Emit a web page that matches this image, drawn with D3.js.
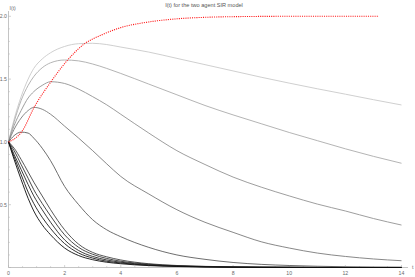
<!DOCTYPE html>
<html>
<head>
<meta charset="utf-8">
<script src="https://cdn.jsdelivr.net/npm/d3@7"></script>
<style>
  body { margin: 0; background: #fff; }
  svg { display: block; font-family: "Liberation Sans", "DejaVu Sans", sans-serif; }
</style>
</head>
<body>
<svg id="chart" width="415" height="277"></svg>
<script>
// sample times shared by all curves
const tGrid = [0, 0.2, 0.45, 0.7, 0.9, 1.2, 1.5, 2, 2.5, 3, 3.5, 4, 5, 6, 7, 8, 9, 10, 11, 12, 13, 14];

// I(t) curves, lightest (top) to darkest (fastest decay)
const c1 = [1, 1.18, 1.36, 1.5, 1.585, 1.66, 1.71, 1.76, 1.782, 1.785, 1.775, 1.755, 1.715, 1.665, 1.615, 1.565, 1.515, 1.468, 1.423, 1.38, 1.336, 1.294];
const c2 = [1, 1.16, 1.33, 1.45, 1.52, 1.59, 1.63, 1.652, 1.645, 1.62, 1.585, 1.545, 1.46, 1.375, 1.29, 1.215, 1.145, 1.075, 1.01, 0.945, 0.885, 0.83];
const c3 = [1, 1.13, 1.25, 1.35, 1.40, 1.45, 1.479, 1.465, 1.42, 1.36, 1.295, 1.22, 1.07, 0.93, 0.82, 0.72, 0.64, 0.57, 0.505, 0.45, 0.39, 0.338];
const c4 = [1, 1.1, 1.19, 1.25, 1.275, 1.26, 1.22, 1.125, 1.03, 0.93, 0.825, 0.725, 0.585, 0.46, 0.36, 0.28, 0.205, 0.155, 0.115, 0.088, 0.068, 0.054];
const c5 = [1, 1.05, 1.078, 1.07, 1.03, 0.95, 0.85, 0.645, 0.5, 0.38, 0.3, 0.245, 0.16, 0.1, 0.065, 0.04, 0.025, 0.016, 0.01, 0.006, 0.004, 0.003];
const c6 = [1, 0.95, 0.86, 0.76, 0.68, 0.57, 0.46, 0.3, 0.185, 0.12, 0.085, 0.06, 0.03, 0.016, 0.009, 0.005, 0.003, 0.002, 0.001, 0.001, 0, 0];
const c7 = [1, 0.93, 0.82, 0.71, 0.62, 0.51, 0.41, 0.26, 0.16, 0.105, 0.072, 0.05, 0.026, 0.014, 0.008, 0.004, 0.002, 0.001, 0.001, 0, 0, 0];
const c8 = [1, 0.9, 0.78, 0.66, 0.57, 0.46, 0.36, 0.22, 0.135, 0.088, 0.06, 0.042, 0.022, 0.012, 0.006, 0.003, 0.002, 0.001, 0, 0, 0, 0];
const c9 = [1, 0.88, 0.74, 0.6, 0.51, 0.4, 0.31, 0.19, 0.115, 0.075, 0.05, 0.036, 0.018, 0.01, 0.005, 0.003, 0.001, 0.001, 0, 0, 0, 0];
const c10 = [1, 0.86, 0.7, 0.55, 0.45, 0.34, 0.26, 0.155, 0.095, 0.062, 0.042, 0.03, 0.015, 0.008, 0.004, 0.002, 0.001, 0.001, 0, 0, 0, 0];
const curves = [c1, c2, c3, c4, c5, c6, c7, c8, c9, c10];
const curveColors = ['#c9c9c9', '#ababab', '#939393', '#7a7a7a', '#5e5e5e', '#444', '#333', '#262626', '#1a1a1a', '#0d0d0d'];

// red dotted curve through the peaks
const redT = [0, 0.25, 0.5, 0.9, 1.5, 2.1, 2.7, 3.3, 4, 5, 6, 7, 8, 10, 13.2];
const redI = [1, 1.03, 1.09, 1.27, 1.475, 1.65, 1.78, 1.85, 1.91, 1.955, 1.98, 1.992, 1.997, 2.0, 2.0];

const xTicks = [0, 2, 4, 6, 8, 10, 12, 14];
const yTicks = [0.5, 1.0, 1.5, 2.0];

const svg = d3.select('#chart');
const x = d3.scaleLinear().domain([0, 14]).range([8.5, 401.5]);
const y = d3.scaleLinear().domain([0, 2]).range([267.5, 16.3]);
const axisColor = '#b5b5b5';
const labelColor = '#6a6a6a';
const fs = 5.2;

// title
svg.append('text')
  .attr('x', 204).attr('y', 7)
  .attr('text-anchor', 'middle')
  .attr('font-size', 5.6)
  .attr('fill', '#555')
  .text('I(t) for the two agent SIR model');

// axes
const gx = svg.append('g');
gx.append('line').attr('x1', x(0)).attr('x2', 408).attr('y1', y(0)).attr('y2', y(0))
  .attr('stroke', axisColor).attr('stroke-width', 0.8);
d3.range(0, 14.01, 0.5).forEach(v => {
  const major = xTicks.includes(v);
  gx.append('line').attr('x1', x(v)).attr('x2', x(v))
    .attr('y1', y(0)).attr('y2', y(0) - (major ? 2.5 : 1.3))
    .attr('stroke', axisColor).attr('stroke-width', 0.6);
});
gx.selectAll('.xl').data(xTicks).enter().append('text')
  .attr('x', d => x(d)).attr('y', y(0) + 7)
  .attr('text-anchor', 'middle').attr('font-size', fs).attr('fill', labelColor)
  .text(d => d);
gx.append('text').attr('x', 412).attr('y', y(0) + 1.8)
  .attr('font-size', fs).attr('fill', labelColor).text('t');

const gy = svg.append('g');
gy.append('line').attr('x1', x(0)).attr('x2', x(0)).attr('y1', y(0)).attr('y2', 11)
  .attr('stroke', axisColor).attr('stroke-width', 0.8);
d3.range(0, 2.01, 0.1).forEach(v => {
  const major = Math.abs(v * 2 - Math.round(v * 2)) < 1e-6;
  gy.append('line').attr('x1', x(0)).attr('x2', x(0) + (major ? 2.5 : 1.3))
    .attr('y1', y(v)).attr('y2', y(v))
    .attr('stroke', axisColor).attr('stroke-width', 0.6);
});
gy.selectAll('.yl').data(yTicks).enter().append('text')
  .attr('x', x(0) - 1.5).attr('y', d => y(d) + 1.8)
  .attr('text-anchor', 'end').attr('font-size', fs).attr('fill', labelColor)
  .text(d => d.toFixed(1));
gy.append('text').attr('x', x(0) + 1).attr('y', 9.5)
  .attr('font-size', fs).attr('fill', labelColor).text('I(t)');

// curves
const line = d3.line()
  .x(d => x(d[0]))
  .y(d => y(d[1]))
  .curve(d3.curveMonotoneX);

curves.forEach((vals, i) => {
  svg.append('path')
    .datum(tGrid.map((t, j) => [t, vals[j]]))
    .attr('d', line)
    .attr('fill', 'none')
    .attr('stroke', curveColors[i])
    .attr('stroke-width', 0.9);
});

svg.append('path')
  .datum(redT.map((t, j) => [t, redI[j]]))
  .attr('d', line)
  .attr('fill', 'none')
  .attr('stroke', '#ff1a1a')
  .attr('stroke-width', 1.1)
  .attr('stroke-dasharray', '1.1,1.1');
</script>
</body>
</html>
